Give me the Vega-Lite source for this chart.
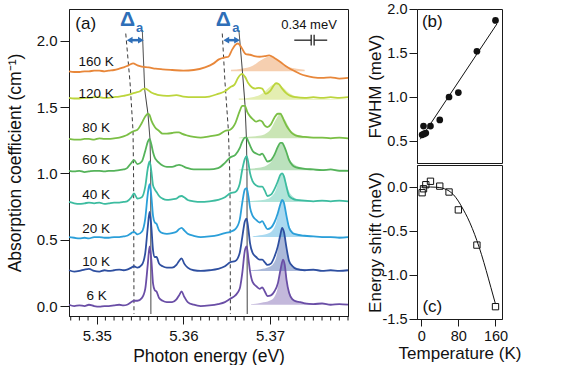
{
"$schema": "https://vega.github.io/schema/vega-lite/v6.json",
"background": "white",
"padding": {"left": 5, "top": 0, "right": 5, "bottom": 0},
"config": {
 "font": "Liberation Sans",
 "view": {"stroke": "#1a1a1a", "strokeWidth": 1},
 "axis": {"domainColor": "#1a1a1a", "tickColor": "#1a1a1a", "labelColor": "#111", "titleColor": "#111", "labelFontSize": 15, "titleFontSize": 17.5, "titleFontWeight": "normal", "grid": false, "labelFont": "Liberation Sans", "titleFont": "Liberation Sans"}
},
"datasets": {
"spectra": [
{"T":"6 K","e":5.3468,"a":0.01},{"T":"6 K","e":5.3474,"a":0.0},{"T":"6 K","e":5.348,"a":0.005},{"T":"6 K","e":5.3486,"a":0.0},{"T":"6 K","e":5.3491,"a":0.01},{"T":"6 K","e":5.3497,"a":0.0},{"T":"6 K","e":5.3503,"a":-0.005},{"T":"6 K","e":5.3509,"a":0.0},{"T":"6 K","e":5.3514,"a":0.0},{"T":"6 K","e":5.352,"a":0.005},{"T":"6 K","e":5.3526,"a":0.01},{"T":"6 K","e":5.3531,"a":0.005},{"T":"6 K","e":5.3535,"a":0.01},{"T":"6 K","e":5.354,"a":0.03},{"T":"6 K","e":5.3543,"a":0.04},{"T":"6 K","e":5.3547,"a":0.04},{"T":"6 K","e":5.3552,"a":0.06},{"T":"6 K","e":5.3556,"a":0.13},{"T":"6 K","e":5.3559,"a":0.32},{"T":"6 K","e":5.3561,"a":0.45},{"T":"6 K","e":5.3563,"a":0.35},{"T":"6 K","e":5.3565,"a":0.17},{"T":"6 K","e":5.3567,"a":0.12},{"T":"6 K","e":5.3569,"a":0.11},{"T":"6 K","e":5.3572,"a":0.06},{"T":"6 K","e":5.3576,"a":0.04},{"T":"6 K","e":5.3581,"a":0.03},{"T":"6 K","e":5.3587,"a":0.03},{"T":"6 K","e":5.3592,"a":0.05},{"T":"6 K","e":5.3595,"a":0.08},{"T":"6 K","e":5.3598,"a":0.11},{"T":"6 K","e":5.3601,"a":0.07},{"T":"6 K","e":5.3605,"a":0.03},{"T":"6 K","e":5.3612,"a":0.01},{"T":"6 K","e":5.362,"a":0.0},{"T":"6 K","e":5.363,"a":0.005},{"T":"6 K","e":5.364,"a":0.015},{"T":"6 K","e":5.3648,"a":0.03},{"T":"6 K","e":5.3654,"a":0.055},{"T":"6 K","e":5.366,"a":0.08},{"T":"6 K","e":5.3665,"a":0.13},{"T":"6 K","e":5.3668,"a":0.25},{"T":"6 K","e":5.3671,"a":0.42},{"T":"6 K","e":5.3673,"a":0.45},{"T":"6 K","e":5.3675,"a":0.36},{"T":"6 K","e":5.3677,"a":0.26},{"T":"6 K","e":5.368,"a":0.18},{"T":"6 K","e":5.3684,"a":0.15},{"T":"6 K","e":5.3688,"a":0.13},{"T":"6 K","e":5.3691,"a":0.14},{"T":"6 K","e":5.3694,"a":0.11},{"T":"6 K","e":5.3697,"a":0.075},{"T":"6 K","e":5.3701,"a":0.08},{"T":"6 K","e":5.3705,"a":0.11},{"T":"6 K","e":5.3709,"a":0.17},{"T":"6 K","e":5.3712,"a":0.27},{"T":"6 K","e":5.3715,"a":0.35},{"T":"6 K","e":5.3717,"a":0.31},{"T":"6 K","e":5.3719,"a":0.2},{"T":"6 K","e":5.3722,"a":0.1},{"T":"6 K","e":5.3726,"a":0.05},{"T":"6 K","e":5.373,"a":0.035},{"T":"6 K","e":5.3735,"a":0.03},{"T":"6 K","e":5.374,"a":0.02},{"T":"6 K","e":5.375,"a":0.015},{"T":"6 K","e":5.376,"a":0.02},{"T":"6 K","e":5.377,"a":0.01},{"T":"6 K","e":5.378,"a":0.015},{"T":"6 K","e":5.379,"a":0.01},
{"T":"10 K","e":5.3468,"a":0.27},{"T":"10 K","e":5.3474,"a":0.26},{"T":"10 K","e":5.348,"a":0.265},{"T":"10 K","e":5.3486,"a":0.275},{"T":"10 K","e":5.3491,"a":0.28},{"T":"10 K","e":5.3497,"a":0.265},{"T":"10 K","e":5.3503,"a":0.26},{"T":"10 K","e":5.3509,"a":0.27},{"T":"10 K","e":5.3514,"a":0.265},{"T":"10 K","e":5.352,"a":0.27},{"T":"10 K","e":5.3526,"a":0.275},{"T":"10 K","e":5.3531,"a":0.27},{"T":"10 K","e":5.3535,"a":0.275},{"T":"10 K","e":5.354,"a":0.29},{"T":"10 K","e":5.3543,"a":0.3},{"T":"10 K","e":5.3547,"a":0.29},{"T":"10 K","e":5.3552,"a":0.31},{"T":"10 K","e":5.3556,"a":0.4},{"T":"10 K","e":5.3559,"a":0.6},{"T":"10 K","e":5.3561,"a":0.71},{"T":"10 K","e":5.3563,"a":0.6},{"T":"10 K","e":5.3565,"a":0.42},{"T":"10 K","e":5.3567,"a":0.37},{"T":"10 K","e":5.3569,"a":0.37},{"T":"10 K","e":5.3572,"a":0.32},{"T":"10 K","e":5.3576,"a":0.3},{"T":"10 K","e":5.3581,"a":0.29},{"T":"10 K","e":5.3587,"a":0.29},{"T":"10 K","e":5.3592,"a":0.31},{"T":"10 K","e":5.3595,"a":0.34},{"T":"10 K","e":5.3598,"a":0.36},{"T":"10 K","e":5.3601,"a":0.32},{"T":"10 K","e":5.3605,"a":0.29},{"T":"10 K","e":5.3612,"a":0.27},{"T":"10 K","e":5.362,"a":0.265},{"T":"10 K","e":5.363,"a":0.27},{"T":"10 K","e":5.364,"a":0.28},{"T":"10 K","e":5.3648,"a":0.3},{"T":"10 K","e":5.3654,"a":0.33},{"T":"10 K","e":5.366,"a":0.34},{"T":"10 K","e":5.3665,"a":0.4},{"T":"10 K","e":5.3668,"a":0.52},{"T":"10 K","e":5.3671,"a":0.64},{"T":"10 K","e":5.3673,"a":0.66},{"T":"10 K","e":5.3675,"a":0.58},{"T":"10 K","e":5.3677,"a":0.47},{"T":"10 K","e":5.368,"a":0.4},{"T":"10 K","e":5.3684,"a":0.37},{"T":"10 K","e":5.3688,"a":0.35},{"T":"10 K","e":5.3691,"a":0.35},{"T":"10 K","e":5.3694,"a":0.33},{"T":"10 K","e":5.3697,"a":0.31},{"T":"10 K","e":5.3701,"a":0.32},{"T":"10 K","e":5.3705,"a":0.37},{"T":"10 K","e":5.3709,"a":0.45},{"T":"10 K","e":5.3712,"a":0.54},{"T":"10 K","e":5.3714,"a":0.59},{"T":"10 K","e":5.3716,"a":0.56},{"T":"10 K","e":5.3719,"a":0.44},{"T":"10 K","e":5.3722,"a":0.34},{"T":"10 K","e":5.3726,"a":0.3},{"T":"10 K","e":5.373,"a":0.28},{"T":"10 K","e":5.374,"a":0.27},{"T":"10 K","e":5.375,"a":0.275},{"T":"10 K","e":5.376,"a":0.265},{"T":"10 K","e":5.377,"a":0.27},{"T":"10 K","e":5.378,"a":0.265},{"T":"10 K","e":5.379,"a":0.27},
{"T":"20 K","e":5.3468,"a":0.52},{"T":"20 K","e":5.3474,"a":0.515},{"T":"20 K","e":5.348,"a":0.51},{"T":"20 K","e":5.3486,"a":0.515},{"T":"20 K","e":5.3491,"a":0.51},{"T":"20 K","e":5.3497,"a":0.52},{"T":"20 K","e":5.3503,"a":0.52},{"T":"20 K","e":5.3509,"a":0.515},{"T":"20 K","e":5.3514,"a":0.515},{"T":"20 K","e":5.352,"a":0.52},{"T":"20 K","e":5.3526,"a":0.52},{"T":"20 K","e":5.3531,"a":0.525},{"T":"20 K","e":5.3535,"a":0.53},{"T":"20 K","e":5.354,"a":0.55},{"T":"20 K","e":5.3543,"a":0.56},{"T":"20 K","e":5.3547,"a":0.54},{"T":"20 K","e":5.3552,"a":0.56},{"T":"20 K","e":5.3556,"a":0.66},{"T":"20 K","e":5.3559,"a":0.85},{"T":"20 K","e":5.3561,"a":0.92},{"T":"20 K","e":5.3563,"a":0.83},{"T":"20 K","e":5.3565,"a":0.68},{"T":"20 K","e":5.3567,"a":0.63},{"T":"20 K","e":5.3569,"a":0.62},{"T":"20 K","e":5.3572,"a":0.57},{"T":"20 K","e":5.3576,"a":0.55},{"T":"20 K","e":5.3581,"a":0.545},{"T":"20 K","e":5.3587,"a":0.55},{"T":"20 K","e":5.3592,"a":0.56},{"T":"20 K","e":5.3595,"a":0.58},{"T":"20 K","e":5.3598,"a":0.59},{"T":"20 K","e":5.3601,"a":0.57},{"T":"20 K","e":5.3605,"a":0.545},{"T":"20 K","e":5.3612,"a":0.53},{"T":"20 K","e":5.362,"a":0.52},{"T":"20 K","e":5.363,"a":0.525},{"T":"20 K","e":5.364,"a":0.535},{"T":"20 K","e":5.3648,"a":0.55},{"T":"20 K","e":5.3654,"a":0.56},{"T":"20 K","e":5.366,"a":0.58},{"T":"20 K","e":5.3665,"a":0.65},{"T":"20 K","e":5.3668,"a":0.78},{"T":"20 K","e":5.3671,"a":0.88},{"T":"20 K","e":5.3673,"a":0.89},{"T":"20 K","e":5.3675,"a":0.83},{"T":"20 K","e":5.3677,"a":0.74},{"T":"20 K","e":5.368,"a":0.68},{"T":"20 K","e":5.3684,"a":0.65},{"T":"20 K","e":5.3688,"a":0.63},{"T":"20 K","e":5.3691,"a":0.64},{"T":"20 K","e":5.3694,"a":0.61},{"T":"20 K","e":5.3697,"a":0.58},{"T":"20 K","e":5.3701,"a":0.59},{"T":"20 K","e":5.3705,"a":0.63},{"T":"20 K","e":5.3709,"a":0.7},{"T":"20 K","e":5.3712,"a":0.77},{"T":"20 K","e":5.3714,"a":0.8},{"T":"20 K","e":5.3716,"a":0.78},{"T":"20 K","e":5.3719,"a":0.68},{"T":"20 K","e":5.3722,"a":0.59},{"T":"20 K","e":5.3726,"a":0.55},{"T":"20 K","e":5.373,"a":0.54},{"T":"20 K","e":5.374,"a":0.53},{"T":"20 K","e":5.375,"a":0.525},{"T":"20 K","e":5.376,"a":0.52},{"T":"20 K","e":5.377,"a":0.52},{"T":"20 K","e":5.378,"a":0.515},{"T":"20 K","e":5.379,"a":0.52},
{"T":"40 K","e":5.3468,"a":0.785},{"T":"40 K","e":5.3474,"a":0.775},{"T":"40 K","e":5.348,"a":0.77},{"T":"40 K","e":5.3486,"a":0.775},{"T":"40 K","e":5.3491,"a":0.78},{"T":"40 K","e":5.3497,"a":0.775},{"T":"40 K","e":5.3503,"a":0.78},{"T":"40 K","e":5.3509,"a":0.77},{"T":"40 K","e":5.3514,"a":0.775},{"T":"40 K","e":5.352,"a":0.78},{"T":"40 K","e":5.3526,"a":0.78},{"T":"40 K","e":5.3531,"a":0.785},{"T":"40 K","e":5.3535,"a":0.79},{"T":"40 K","e":5.354,"a":0.82},{"T":"40 K","e":5.3543,"a":0.85},{"T":"40 K","e":5.3547,"a":0.81},{"T":"40 K","e":5.3552,"a":0.82},{"T":"40 K","e":5.3556,"a":0.9},{"T":"40 K","e":5.3559,"a":1.04},{"T":"40 K","e":5.3561,"a":1.09},{"T":"40 K","e":5.3563,"a":1.02},{"T":"40 K","e":5.3565,"a":0.91},{"T":"40 K","e":5.3567,"a":0.88},{"T":"40 K","e":5.3569,"a":0.86},{"T":"40 K","e":5.3572,"a":0.83},{"T":"40 K","e":5.3576,"a":0.81},{"T":"40 K","e":5.3581,"a":0.8},{"T":"40 K","e":5.3587,"a":0.805},{"T":"40 K","e":5.3592,"a":0.81},{"T":"40 K","e":5.3595,"a":0.825},{"T":"40 K","e":5.3598,"a":0.83},{"T":"40 K","e":5.3601,"a":0.82},{"T":"40 K","e":5.3605,"a":0.8},{"T":"40 K","e":5.3612,"a":0.79},{"T":"40 K","e":5.362,"a":0.785},{"T":"40 K","e":5.363,"a":0.79},{"T":"40 K","e":5.364,"a":0.8},{"T":"40 K","e":5.3648,"a":0.82},{"T":"40 K","e":5.3654,"a":0.85},{"T":"40 K","e":5.366,"a":0.86},{"T":"40 K","e":5.3665,"a":0.92},{"T":"40 K","e":5.3668,"a":1.03},{"T":"40 K","e":5.3671,"a":1.11},{"T":"40 K","e":5.3673,"a":1.13},{"T":"40 K","e":5.3675,"a":1.08},{"T":"40 K","e":5.3677,"a":1.0},{"T":"40 K","e":5.368,"a":0.94},{"T":"40 K","e":5.3684,"a":0.91},{"T":"40 K","e":5.3688,"a":0.9},{"T":"40 K","e":5.3691,"a":0.9},{"T":"40 K","e":5.3694,"a":0.87},{"T":"40 K","e":5.3697,"a":0.83},{"T":"40 K","e":5.3701,"a":0.84},{"T":"40 K","e":5.3705,"a":0.88},{"T":"40 K","e":5.3709,"a":0.94},{"T":"40 K","e":5.3712,"a":0.99},{"T":"40 K","e":5.3714,"a":1.0},{"T":"40 K","e":5.3716,"a":0.98},{"T":"40 K","e":5.3719,"a":0.9},{"T":"40 K","e":5.3722,"a":0.83},{"T":"40 K","e":5.3726,"a":0.81},{"T":"40 K","e":5.373,"a":0.8},{"T":"40 K","e":5.374,"a":0.795},{"T":"40 K","e":5.375,"a":0.79},{"T":"40 K","e":5.376,"a":0.795},{"T":"40 K","e":5.377,"a":0.79},{"T":"40 K","e":5.378,"a":0.795},{"T":"40 K","e":5.379,"a":0.79},
{"T":"60 K","e":5.3468,"a":1.02},{"T":"60 K","e":5.3474,"a":1.015},{"T":"60 K","e":5.348,"a":1.02},{"T":"60 K","e":5.3486,"a":1.01},{"T":"60 K","e":5.3491,"a":1.015},{"T":"60 K","e":5.3497,"a":1.02},{"T":"60 K","e":5.3503,"a":1.02},{"T":"60 K","e":5.3509,"a":1.015},{"T":"60 K","e":5.3514,"a":1.02},{"T":"60 K","e":5.352,"a":1.02},{"T":"60 K","e":5.3526,"a":1.025},{"T":"60 K","e":5.3531,"a":1.03},{"T":"60 K","e":5.3535,"a":1.04},{"T":"60 K","e":5.354,"a":1.08},{"T":"60 K","e":5.3543,"a":1.1},{"T":"60 K","e":5.3547,"a":1.07},{"T":"60 K","e":5.3552,"a":1.09},{"T":"60 K","e":5.3556,"a":1.17},{"T":"60 K","e":5.3559,"a":1.24},{"T":"60 K","e":5.3561,"a":1.26},{"T":"60 K","e":5.3563,"a":1.22},{"T":"60 K","e":5.3565,"a":1.16},{"T":"60 K","e":5.3567,"a":1.12},{"T":"60 K","e":5.3569,"a":1.1},{"T":"60 K","e":5.3572,"a":1.08},{"T":"60 K","e":5.3576,"a":1.06},{"T":"60 K","e":5.3581,"a":1.05},{"T":"60 K","e":5.3587,"a":1.05},{"T":"60 K","e":5.3592,"a":1.06},{"T":"60 K","e":5.3595,"a":1.065},{"T":"60 K","e":5.3598,"a":1.06},{"T":"60 K","e":5.3601,"a":1.05},{"T":"60 K","e":5.3605,"a":1.04},{"T":"60 K","e":5.3612,"a":1.03},{"T":"60 K","e":5.362,"a":1.03},{"T":"60 K","e":5.363,"a":1.03},{"T":"60 K","e":5.364,"a":1.04},{"T":"60 K","e":5.3648,"a":1.08},{"T":"60 K","e":5.3654,"a":1.12},{"T":"60 K","e":5.366,"a":1.14},{"T":"60 K","e":5.3665,"a":1.19},{"T":"60 K","e":5.3668,"a":1.24},{"T":"60 K","e":5.3671,"a":1.27},{"T":"60 K","e":5.3673,"a":1.27},{"T":"60 K","e":5.3675,"a":1.24},{"T":"60 K","e":5.3677,"a":1.21},{"T":"60 K","e":5.368,"a":1.17},{"T":"60 K","e":5.3684,"a":1.15},{"T":"60 K","e":5.3688,"a":1.14},{"T":"60 K","e":5.3691,"a":1.15},{"T":"60 K","e":5.3694,"a":1.12},{"T":"60 K","e":5.3697,"a":1.09},{"T":"60 K","e":5.3701,"a":1.1},{"T":"60 K","e":5.3705,"a":1.14},{"T":"60 K","e":5.3709,"a":1.2},{"T":"60 K","e":5.3712,"a":1.23},{"T":"60 K","e":5.3714,"a":1.23},{"T":"60 K","e":5.3716,"a":1.21},{"T":"60 K","e":5.3719,"a":1.16},{"T":"60 K","e":5.3722,"a":1.1},{"T":"60 K","e":5.3726,"a":1.06},{"T":"60 K","e":5.373,"a":1.045},{"T":"60 K","e":5.374,"a":1.035},{"T":"60 K","e":5.375,"a":1.03},{"T":"60 K","e":5.376,"a":1.025},{"T":"60 K","e":5.377,"a":1.03},{"T":"60 K","e":5.378,"a":1.02},{"T":"60 K","e":5.379,"a":1.02},
{"T":"80 K","e":5.3468,"a":1.26},{"T":"80 K","e":5.3474,"a":1.255},{"T":"80 K","e":5.348,"a":1.255},{"T":"80 K","e":5.3486,"a":1.26},{"T":"80 K","e":5.3491,"a":1.26},{"T":"80 K","e":5.3497,"a":1.255},{"T":"80 K","e":5.3503,"a":1.265},{"T":"80 K","e":5.3509,"a":1.26},{"T":"80 K","e":5.3514,"a":1.26},{"T":"80 K","e":5.352,"a":1.265},{"T":"80 K","e":5.3526,"a":1.27},{"T":"80 K","e":5.3531,"a":1.28},{"T":"80 K","e":5.3535,"a":1.29},{"T":"80 K","e":5.354,"a":1.31},{"T":"80 K","e":5.3543,"a":1.32},{"T":"80 K","e":5.3547,"a":1.33},{"T":"80 K","e":5.3552,"a":1.38},{"T":"80 K","e":5.3556,"a":1.43},{"T":"80 K","e":5.3559,"a":1.45},{"T":"80 K","e":5.3561,"a":1.44},{"T":"80 K","e":5.3563,"a":1.4},{"T":"80 K","e":5.3567,"a":1.35},{"T":"80 K","e":5.3572,"a":1.32},{"T":"80 K","e":5.3576,"a":1.3},{"T":"80 K","e":5.3581,"a":1.3},{"T":"80 K","e":5.3587,"a":1.305},{"T":"80 K","e":5.3592,"a":1.31},{"T":"80 K","e":5.3595,"a":1.31},{"T":"80 K","e":5.3598,"a":1.3},{"T":"80 K","e":5.3605,"a":1.285},{"T":"80 K","e":5.3612,"a":1.275},{"T":"80 K","e":5.362,"a":1.27},{"T":"80 K","e":5.363,"a":1.28},{"T":"80 K","e":5.364,"a":1.29},{"T":"80 K","e":5.3648,"a":1.32},{"T":"80 K","e":5.3654,"a":1.33},{"T":"80 K","e":5.366,"a":1.38},{"T":"80 K","e":5.3665,"a":1.47},{"T":"80 K","e":5.3668,"a":1.51},{"T":"80 K","e":5.3671,"a":1.51},{"T":"80 K","e":5.3674,"a":1.46},{"T":"80 K","e":5.3677,"a":1.43},{"T":"80 K","e":5.368,"a":1.41},{"T":"80 K","e":5.3684,"a":1.39},{"T":"80 K","e":5.3688,"a":1.4},{"T":"80 K","e":5.3691,"a":1.39},{"T":"80 K","e":5.3694,"a":1.36},{"T":"80 K","e":5.3697,"a":1.35},{"T":"80 K","e":5.3701,"a":1.37},{"T":"80 K","e":5.3705,"a":1.42},{"T":"80 K","e":5.3709,"a":1.45},{"T":"80 K","e":5.3712,"a":1.45},{"T":"80 K","e":5.3714,"a":1.43},{"T":"80 K","e":5.3716,"a":1.4},{"T":"80 K","e":5.3719,"a":1.36},{"T":"80 K","e":5.3722,"a":1.33},{"T":"80 K","e":5.3726,"a":1.3},{"T":"80 K","e":5.373,"a":1.285},{"T":"80 K","e":5.374,"a":1.275},{"T":"80 K","e":5.375,"a":1.27},{"T":"80 K","e":5.376,"a":1.27},{"T":"80 K","e":5.377,"a":1.265},{"T":"80 K","e":5.378,"a":1.27},{"T":"80 K","e":5.379,"a":1.265},
{"T":"120 K","e":5.3468,"a":1.57},{"T":"120 K","e":5.3474,"a":1.565},{"T":"120 K","e":5.348,"a":1.565},{"T":"120 K","e":5.3486,"a":1.57},{"T":"120 K","e":5.3491,"a":1.57},{"T":"120 K","e":5.3497,"a":1.575},{"T":"120 K","e":5.3503,"a":1.575},{"T":"120 K","e":5.3509,"a":1.57},{"T":"120 K","e":5.3514,"a":1.57},{"T":"120 K","e":5.352,"a":1.575},{"T":"120 K","e":5.3526,"a":1.58},{"T":"120 K","e":5.3531,"a":1.585},{"T":"120 K","e":5.3535,"a":1.59},{"T":"120 K","e":5.354,"a":1.6},{"T":"120 K","e":5.3545,"a":1.61},{"T":"120 K","e":5.355,"a":1.62},{"T":"120 K","e":5.3553,"a":1.635},{"T":"120 K","e":5.3556,"a":1.64},{"T":"120 K","e":5.3559,"a":1.63},{"T":"120 K","e":5.3563,"a":1.61},{"T":"120 K","e":5.3567,"a":1.6},{"T":"120 K","e":5.3572,"a":1.59},{"T":"120 K","e":5.3581,"a":1.585},{"T":"120 K","e":5.3592,"a":1.59},{"T":"120 K","e":5.36,"a":1.58},{"T":"120 K","e":5.3612,"a":1.575},{"T":"120 K","e":5.362,"a":1.575},{"T":"120 K","e":5.363,"a":1.58},{"T":"120 K","e":5.364,"a":1.6},{"T":"120 K","e":5.3648,"a":1.62},{"T":"120 K","e":5.3654,"a":1.65},{"T":"120 K","e":5.3659,"a":1.67},{"T":"120 K","e":5.3663,"a":1.72},{"T":"120 K","e":5.3666,"a":1.745},{"T":"120 K","e":5.3668,"a":1.75},{"T":"120 K","e":5.3671,"a":1.73},{"T":"120 K","e":5.3675,"a":1.68},{"T":"120 K","e":5.3679,"a":1.65},{"T":"120 K","e":5.3683,"a":1.64},{"T":"120 K","e":5.3687,"a":1.645},{"T":"120 K","e":5.3691,"a":1.64},{"T":"120 K","e":5.3695,"a":1.6},{"T":"120 K","e":5.37,"a":1.62},{"T":"120 K","e":5.3704,"a":1.66},{"T":"120 K","e":5.3707,"a":1.68},{"T":"120 K","e":5.371,"a":1.675},{"T":"120 K","e":5.3714,"a":1.64},{"T":"120 K","e":5.3718,"a":1.61},{"T":"120 K","e":5.3722,"a":1.59},{"T":"120 K","e":5.3726,"a":1.58},{"T":"120 K","e":5.373,"a":1.575},{"T":"120 K","e":5.374,"a":1.57},{"T":"120 K","e":5.375,"a":1.575},{"T":"120 K","e":5.376,"a":1.57},{"T":"120 K","e":5.377,"a":1.575},{"T":"120 K","e":5.378,"a":1.57},{"T":"120 K","e":5.379,"a":1.575},
{"T":"160 K","e":5.3468,"a":1.77},{"T":"160 K","e":5.3474,"a":1.765},{"T":"160 K","e":5.348,"a":1.765},{"T":"160 K","e":5.3486,"a":1.77},{"T":"160 K","e":5.3491,"a":1.77},{"T":"160 K","e":5.3497,"a":1.775},{"T":"160 K","e":5.3503,"a":1.775},{"T":"160 K","e":5.3509,"a":1.77},{"T":"160 K","e":5.3514,"a":1.775},{"T":"160 K","e":5.352,"a":1.78},{"T":"160 K","e":5.3526,"a":1.79},{"T":"160 K","e":5.3531,"a":1.8},{"T":"160 K","e":5.3535,"a":1.81},{"T":"160 K","e":5.3538,"a":1.82},{"T":"160 K","e":5.3542,"a":1.83},{"T":"160 K","e":5.3547,"a":1.815},{"T":"160 K","e":5.3552,"a":1.805},{"T":"160 K","e":5.356,"a":1.8},{"T":"160 K","e":5.3568,"a":1.79},{"T":"160 K","e":5.3576,"a":1.785},{"T":"160 K","e":5.3587,"a":1.78},{"T":"160 K","e":5.36,"a":1.775},{"T":"160 K","e":5.3612,"a":1.78},{"T":"160 K","e":5.3625,"a":1.8},{"T":"160 K","e":5.3635,"a":1.83},{"T":"160 K","e":5.3641,"a":1.86},{"T":"160 K","e":5.3648,"a":1.875},{"T":"160 K","e":5.3652,"a":1.88},{"T":"160 K","e":5.3656,"a":1.93},{"T":"160 K","e":5.366,"a":1.97},{"T":"160 K","e":5.3663,"a":1.98},{"T":"160 K","e":5.3667,"a":1.95},{"T":"160 K","e":5.3672,"a":1.9},{"T":"160 K","e":5.3677,"a":1.895},{"T":"160 K","e":5.3682,"a":1.885},{"T":"160 K","e":5.3688,"a":1.88},{"T":"160 K","e":5.3694,"a":1.885},{"T":"160 K","e":5.3699,"a":1.89},{"T":"160 K","e":5.3705,"a":1.87},{"T":"160 K","e":5.3712,"a":1.84},{"T":"160 K","e":5.3718,"a":1.81},{"T":"160 K","e":5.3723,"a":1.79},{"T":"160 K","e":5.3729,"a":1.77},{"T":"160 K","e":5.3735,"a":1.75},{"T":"160 K","e":5.3742,"a":1.735},{"T":"160 K","e":5.375,"a":1.725},{"T":"160 K","e":5.376,"a":1.72},{"T":"160 K","e":5.377,"a":1.725},{"T":"160 K","e":5.378,"a":1.715},{"T":"160 K","e":5.379,"a":1.72}
],
"fits": [
{"T":"6 K","e":5.3678,"a":0.013,"b":0.01},{"T":"6 K","e":5.369,"a":0.024,"b":0.01},{"T":"6 K","e":5.37,"a":0.041,"b":0.01},{"T":"6 K","e":5.3705,"a":0.068,"b":0.01},{"T":"6 K","e":5.3709,"a":0.139,"b":0.01},{"T":"6 K","e":5.3712,"a":0.265,"b":0.01},{"T":"6 K","e":5.3715,"a":0.35,"b":0.01},{"T":"6 K","e":5.3718,"a":0.265,"b":0.01},{"T":"6 K","e":5.3721,"a":0.139,"b":0.01},{"T":"6 K","e":5.3725,"a":0.068,"b":0.01},{"T":"6 K","e":5.373,"a":0.041,"b":0.01},{"T":"6 K","e":5.374,"a":0.024,"b":0.01},{"T":"6 K","e":5.3755,"a":0.017,"b":0.01},{"T":"6 K","e":5.379,"a":0.013,"b":0.01},
{"T":"10 K","e":5.3678,"a":0.27,"b":0.265},{"T":"10 K","e":5.3689,"a":0.278,"b":0.265},{"T":"10 K","e":5.3699,"a":0.294,"b":0.265},{"T":"10 K","e":5.3704,"a":0.32,"b":0.265},{"T":"10 K","e":5.3708,"a":0.389,"b":0.265},{"T":"10 K","e":5.3711,"a":0.509,"b":0.265},{"T":"10 K","e":5.3714,"a":0.59,"b":0.265},{"T":"10 K","e":5.3717,"a":0.509,"b":0.265},{"T":"10 K","e":5.372,"a":0.389,"b":0.265},{"T":"10 K","e":5.3724,"a":0.32,"b":0.265},{"T":"10 K","e":5.3729,"a":0.294,"b":0.265},{"T":"10 K","e":5.3739,"a":0.278,"b":0.265},{"T":"10 K","e":5.3754,"a":0.272,"b":0.265},{"T":"10 K","e":5.379,"a":0.268,"b":0.265},
{"T":"20 K","e":5.368,"a":0.524,"b":0.52},{"T":"20 K","e":5.3685,"a":0.531,"b":0.52},{"T":"20 K","e":5.3697,"a":0.545,"b":0.52},{"T":"20 K","e":5.37025,"a":0.568,"b":0.52},{"T":"20 K","e":5.3707,"a":0.626,"b":0.52},{"T":"20 K","e":5.37105,"a":0.73,"b":0.52},{"T":"20 K","e":5.3714,"a":0.8,"b":0.52},{"T":"20 K","e":5.37175,"a":0.73,"b":0.52},{"T":"20 K","e":5.3721,"a":0.626,"b":0.52},{"T":"20 K","e":5.37255,"a":0.568,"b":0.52},{"T":"20 K","e":5.3731,"a":0.545,"b":0.52},{"T":"20 K","e":5.3743,"a":0.531,"b":0.52},{"T":"20 K","e":5.376,"a":0.526,"b":0.52},{"T":"20 K","e":5.379,"a":0.523,"b":0.52},
{"T":"40 K","e":5.3664,"a":0.787,"b":0.785},{"T":"40 K","e":5.3682,"a":0.794,"b":0.785},{"T":"40 K","e":5.3695,"a":0.804,"b":0.785},{"T":"40 K","e":5.3701,"a":0.822,"b":0.785},{"T":"40 K","e":5.37063,"a":0.867,"b":0.785},{"T":"40 K","e":5.37102,"a":0.946,"b":0.785},{"T":"40 K","e":5.3714,"a":1.0,"b":0.785},{"T":"40 K","e":5.37178,"a":0.946,"b":0.785},{"T":"40 K","e":5.37217,"a":0.867,"b":0.785},{"T":"40 K","e":5.3727,"a":0.822,"b":0.785},{"T":"40 K","e":5.3733,"a":0.804,"b":0.785},{"T":"40 K","e":5.3746,"a":0.794,"b":0.785},{"T":"40 K","e":5.3765,"a":0.789,"b":0.785},{"T":"40 K","e":5.379,"a":0.787,"b":0.785},
{"T":"60 K","e":5.3664,"a":1.028,"b":1.025},{"T":"60 K","e":5.367,"a":1.033,"b":1.025},{"T":"60 K","e":5.3687,"a":1.043,"b":1.025},{"T":"60 K","e":5.3696,"a":1.06,"b":1.025},{"T":"60 K","e":5.3703,"a":1.103,"b":1.025},{"T":"60 K","e":5.3708,"a":1.18,"b":1.025},{"T":"60 K","e":5.3713,"a":1.23,"b":1.025},{"T":"60 K","e":5.3718,"a":1.18,"b":1.025},{"T":"60 K","e":5.3723,"a":1.103,"b":1.025},{"T":"60 K","e":5.373,"a":1.06,"b":1.025},{"T":"60 K","e":5.3739,"a":1.043,"b":1.025},{"T":"60 K","e":5.3756,"a":1.033,"b":1.025},{"T":"60 K","e":5.3782,"a":1.029,"b":1.025},{"T":"60 K","e":5.379,"a":1.028,"b":1.025},
{"T":"80 K","e":5.3664,"a":1.269,"b":1.265},{"T":"80 K","e":5.3667,"a":1.272,"b":1.265},{"T":"80 K","e":5.3685,"a":1.282,"b":1.265},{"T":"80 K","e":5.3694,"a":1.296,"b":1.265},{"T":"80 K","e":5.3701,"a":1.335,"b":1.265},{"T":"80 K","e":5.37066,"a":1.404,"b":1.265},{"T":"80 K","e":5.3712,"a":1.45,"b":1.265},{"T":"80 K","e":5.37174,"a":1.404,"b":1.265},{"T":"80 K","e":5.3723,"a":1.335,"b":1.265},{"T":"80 K","e":5.373,"a":1.296,"b":1.265},{"T":"80 K","e":5.3739,"a":1.282,"b":1.265},{"T":"80 K","e":5.3757,"a":1.272,"b":1.265},{"T":"80 K","e":5.3784,"a":1.269,"b":1.265},{"T":"80 K","e":5.379,"a":1.268,"b":1.265},
{"T":"120 K","e":5.3664,"a":1.565,"b":1.555},{"T":"120 K","e":5.3668,"a":1.566,"b":1.555},{"T":"120 K","e":5.3681,"a":1.576,"b":1.555},{"T":"120 K","e":5.3691,"a":1.6025,"b":1.555},{"T":"120 K","e":5.3699,"a":1.649,"b":1.555},{"T":"120 K","e":5.3707,"a":1.68,"b":1.555},{"T":"120 K","e":5.3715,"a":1.649,"b":1.555},{"T":"120 K","e":5.3723,"a":1.6025,"b":1.555},{"T":"120 K","e":5.3733,"a":1.576,"b":1.555},{"T":"120 K","e":5.3746,"a":1.566,"b":1.555},{"T":"120 K","e":5.3773,"a":1.56,"b":1.555},{"T":"120 K","e":5.379,"a":1.558,"b":1.555},
{"T":"160 K","e":5.3655,"a":1.781,"b":1.77},{"T":"160 K","e":5.3667,"a":1.789,"b":1.77},{"T":"160 K","e":5.368,"a":1.812,"b":1.77},{"T":"160 K","e":5.3689,"a":1.8525,"b":1.77},{"T":"160 K","e":5.3699,"a":1.88,"b":1.77},{"T":"160 K","e":5.3709,"a":1.8525,"b":1.77},{"T":"160 K","e":5.3718,"a":1.812,"b":1.77},{"T":"160 K","e":5.3731,"a":1.789,"b":1.77},{"T":"160 K","e":5.374,"a":1.782,"b":1.77}
],
"guides": [
{"id":"d1","kind":"dashed","i":0,"e":5.35335,"a":2.055},{"id":"d1","kind":"dashed","i":1,"e":5.35384,"a":1.69},{"id":"d1","kind":"dashed","i":2,"e":5.35419,"a":1.32},{"id":"d1","kind":"dashed","i":3,"e":5.35426,"a":0.94},{"id":"d1","kind":"dashed","i":4,"e":5.3543,"a":-0.06},
{"id":"s1","kind":"solid","i":0,"e":5.35526,"a":2.08},{"id":"s1","kind":"solid","i":1,"e":5.35554,"a":1.63},{"id":"s1","kind":"solid","i":2,"e":5.35592,"a":1.446},{"id":"s1","kind":"solid","i":3,"e":5.35615,"a":1.256},{"id":"s1","kind":"solid","i":4,"e":5.35623,"a":1.015},{"id":"s1","kind":"solid","i":5,"e":5.35625,"a":-0.06},
{"id":"d2","kind":"dashed","i":0,"e":5.36449,"a":2.055},{"id":"d2","kind":"dashed","i":1,"e":5.3648,"a":1.69},{"id":"d2","kind":"dashed","i":2,"e":5.3652,"a":1.32},{"id":"d2","kind":"dashed","i":3,"e":5.36538,"a":0.94},{"id":"d2","kind":"dashed","i":4,"e":5.36543,"a":-0.06},
{"id":"s2","kind":"solid","i":0,"e":5.36641,"a":2.08},{"id":"s2","kind":"solid","i":1,"e":5.36684,"a":1.75},{"id":"s2","kind":"solid","i":2,"e":5.36711,"a":1.52},{"id":"s2","kind":"solid","i":3,"e":5.36728,"a":1.26},{"id":"s2","kind":"solid","i":4,"e":5.36734,"a":1.015},{"id":"s2","kind":"solid","i":5,"e":5.36737,"a":-0.06}
],
"minorticks": [
{"e":5.347},{"e":5.348},{"e":5.349},{"e":5.351},{"e":5.352},{"e":5.353},{"e":5.354},{"e":5.355},{"e":5.356},{"e":5.357},{"e":5.358},{"e":5.359},{"e":5.361},{"e":5.362},{"e":5.363},{"e":5.364},{"e":5.365},{"e":5.366},{"e":5.367},{"e":5.368},{"e":5.369},{"e":5.371},{"e":5.372},{"e":5.373},{"e":5.374},{"e":5.375},{"e":5.376},{"e":5.377},{"e":5.378},{"e":5.379}
],
"fwhm": [
{"T":2,"v":0.57},{"T":5,"v":0.67},{"T":6,"v":0.58},{"T":10,"v":0.59},{"T":20,"v":0.67},{"T":40,"v":0.74},{"T":60,"v":1.0},{"T":80,"v":1.05},{"T":120,"v":1.52},{"T":160,"v":1.87}
],
"fwhmfit": [{"T":-2,"v":0.52},{"T":163,"v":1.83}],
"shift": [
{"T":2,"v":-0.065},{"T":5,"v":-0.02},{"T":10,"v":0.026},{"T":20,"v":0.065},{"T":40,"v":0.01},{"T":60,"v":-0.057},{"T":80,"v":-0.26},{"T":120,"v":-0.66},{"T":160,"v":-1.36}
],
"shiftfit": [
{"T":0,"v":0.0},{"T":10,"v":0.0},{"T":20,"v":0.0},{"T":30,"v":-0.002},{"T":40,"v":-0.006},{"T":50,"v":-0.02},{"T":60,"v":-0.045},{"T":70,"v":-0.09},{"T":80,"v":-0.16},{"T":90,"v":-0.25},{"T":100,"v":-0.35},{"T":110,"v":-0.47},{"T":120,"v":-0.61},{"T":130,"v":-0.77},{"T":140,"v":-0.95},{"T":150,"v":-1.14},{"T":160,"v":-1.33}
]
},
"spacing": 12,
"hconcat": [
{
 "width": 279, "height": 307,
 "layer": [
  {"data": {"name": "fits"},
   "mark": {"type": "area", "fillOpacity": 0.4, "interpolate": "monotone"},
   "encoding": {
    "x": {"field": "e", "type": "quantitative", "scale": {"domain": [5.3468, 5.379], "nice": false, "zero": false},
      "axis": {"title": "Photon energy (eV)", "values": [5.35, 5.36, 5.37], "format": ".2f", "tickSize": 8, "labelPadding": 4, "titlePadding": 4, "labelFlush": false}},
    "y": {"field": "a", "type": "quantitative", "scale": {"domain": [-0.075, 2.24], "nice": false, "zero": false},
      "axis": {"title": "Absorption coefficient (cm⁻¹)", "values": [0, 0.5, 1, 1.5, 2], "format": ".1f", "tickSize": 9, "labelPadding": 3, "titlePadding": 12}},
    "y2": {"field": "b"},
    "color": {"field": "T", "type": "nominal", "legend": null,
      "scale": {"domain": ["6 K","10 K","20 K","40 K","60 K","80 K","120 K","160 K"], "range": ["#6a4ea6","#2e4fa0","#2b9fd9","#3dbca0","#55b35a","#7bbf45","#bcd53c","#e8873a"]}}
   }},
  {"data": {"name": "minorticks"},
   "mark": {"type": "rule", "color": "#1a1a1a", "strokeWidth": 1},
   "encoding": {"x": {"field": "e", "type": "quantitative"}, "y": {"datum": -0.075, "type": "quantitative"}, "y2": {"datum": -0.109}}},
  {"data": {"name": "guides"},
   "mark": {"type": "line", "color": "#3a3a3a", "strokeWidth": 1},
   "encoding": {
    "x": {"field": "e", "type": "quantitative"},
    "y": {"field": "a", "type": "quantitative"},
    "detail": {"field": "id"},
    "order": {"field": "i"},
    "strokeDash": {"field": "kind", "type": "nominal", "legend": null, "scale": {"domain": ["dashed","solid"], "range": [[4,3],[1,0]]}}
   }},
  {"data": {"name": "spectra"},
   "mark": {"type": "line", "strokeWidth": 1.8, "interpolate": "monotone"},
   "encoding": {
    "x": {"field": "e", "type": "quantitative"},
    "y": {"field": "a", "type": "quantitative"},
    "color": {"field": "T", "type": "nominal"}
   }},
  {"data": {"values": [{"x1":5.3538,"x2":5.3551,"a":2.005},{"x1":5.36495,"x2":5.3662,"a":2.005}]},
   "mark": {"type": "rule", "color": "#2f6fb8", "strokeWidth": 2.5},
   "encoding": {"x": {"field": "x1", "type": "quantitative"}, "x2": {"field": "x2"}, "y": {"field": "a", "type": "quantitative"}}},
  {"data": {"values": [{"e":5.3538,"a":2.005,"d":"L"},{"e":5.3551,"a":2.005,"d":"R"},{"e":5.36495,"a":2.005,"d":"L"},{"e":5.3662,"a":2.005,"d":"R"}]},
   "mark": {"type": "point", "filled": true, "color": "#2f6fb8", "opacity": 1, "size": 45},
   "encoding": {"x": {"field": "e", "type": "quantitative"}, "y": {"field": "a", "type": "quantitative"},
    "shape": {"field": "d", "type": "nominal", "legend": null, "scale": {"domain": ["L","R"], "range": ["triangle-left","triangle-right"]}}}},
  {"data": {"values": [{"e":5.35355,"a":2.156,"t":"Δ"},{"e":5.36462,"a":2.156,"t":"Δ"}]},
   "mark": {"type": "text", "fontSize": 21, "fontWeight": "bold", "color": "#2f6fb8"},
   "encoding": {"x": {"field": "e", "type": "quantitative"}, "y": {"field": "a", "type": "quantitative"}, "text": {"field": "t"}}},
  {"data": {"values": [{"e":5.35495,"a":2.1,"t":"a"},{"e":5.36605,"a":2.1,"t":"a"}]},
   "mark": {"type": "text", "fontSize": 13, "fontWeight": "bold", "color": "#2f6fb8"},
   "encoding": {"x": {"field": "e", "type": "quantitative"}, "y": {"field": "a", "type": "quantitative"}, "text": {"field": "t"}}},
  {"data": {"values": [{"x1":5.3728,"x2":5.37475,"y1":2.005,"y2":2.005},{"x1":5.37509,"x2":5.3766,"y1":2.005,"y2":2.005},{"x1":5.37475,"x2":5.37475,"y1":2.045,"y2":1.965},{"x1":5.37509,"x2":5.37509,"y1":2.045,"y2":1.965}]},
   "mark": {"type": "rule", "color": "#111", "strokeWidth": 1.2},
   "encoding": {"x": {"field": "x1", "type": "quantitative"}, "x2": {"field": "x2"}, "y": {"field": "y1", "type": "quantitative"}, "y2": {"field": "y2"}}},
  {"data": {"values": [
     {"e":5.3745,"a":2.12,"t":"0.34 meV","s":13},
     {"e":5.34873,"a":2.13,"t":"(a)","s":17},
     {"e":5.34993,"a":1.84,"t":"160 K","s":13.5},
     {"e":5.34993,"a":1.6,"t":"120 K","s":13.5},
     {"e":5.34993,"a":1.34,"t":"80 K","s":13.5},
     {"e":5.34993,"a":1.1,"t":"60 K","s":13.5},
     {"e":5.34993,"a":0.84,"t":"40 K","s":13.5},
     {"e":5.34993,"a":0.58,"t":"20 K","s":13.5},
     {"e":5.34993,"a":0.33,"t":"10 K","s":13.5},
     {"e":5.35,"a":0.075,"t":"6 K","s":13.5}]},
   "mark": {"type": "text", "color": "#111"},
   "encoding": {"x": {"field": "e", "type": "quantitative"}, "y": {"field": "a", "type": "quantitative"}, "text": {"field": "t"},
     "size": {"field": "s", "type": "quantitative", "scale": null}}}
 ]
},
{
 "spacing": 0,
 "vconcat": [
  {
   "width": 85, "height": 154,
   "layer": [
    {"data": {"name": "fwhmfit"},
     "mark": {"type": "line", "color": "#111", "strokeWidth": 1},
     "encoding": {
      "x": {"field": "T", "type": "quantitative", "scale": {"domain": [-9, 174], "nice": false, "zero": false}, "axis": null},
      "y": {"field": "v", "type": "quantitative", "scale": {"domain": [0.25, 2.0], "nice": false, "zero": false},
        "axis": {"title": "FWHM (meV)", "values": [0.5, 1, 1.5, 2], "format": ".1f", "tickSize": 8, "labelPadding": 2, "labelFontSize": 14.5, "titleX": -33, "titleY": 77, "titleFontSize": 17}}
     }},
    {"data": {"name": "fwhm"},
     "mark": {"type": "point", "filled": true, "color": "#111", "opacity": 1, "size": 45},
     "encoding": {"x": {"field": "T", "type": "quantitative"}, "y": {"field": "v", "type": "quantitative"}}},
    {"data": {"values": [{"T": 24, "v": 1.855, "t": "(b)"}]},
     "mark": {"type": "text", "fontSize": 17, "color": "#111"},
     "encoding": {"x": {"field": "T", "type": "quantitative"}, "y": {"field": "v", "type": "quantitative"}, "text": {"field": "t"}}}
   ]
  },
  {
   "width": 85, "height": 154,
   "layer": [
    {"data": {"name": "shiftfit"},
     "mark": {"type": "line", "color": "#111", "strokeWidth": 1, "interpolate": "monotone"},
     "encoding": {
      "x": {"field": "T", "type": "quantitative", "scale": {"domain": [-9, 174], "nice": false, "zero": false},
        "axis": {"title": "Temperature (K)", "values": [0, 40, 80, 120, 160], "labelExpr": "datum.value % 80 == 0 ? datum.label : ''",
          "tickSize": {"condition": {"test": "datum.value % 80 == 0", "value": 7}, "value": 4}, "labelFontSize": 14.5, "labelPadding": 3, "titlePadding": 3, "titleFontSize": 17, "labelFlush": false}},
      "y": {"field": "v", "type": "quantitative", "scale": {"domain": [-1.5, 0.25], "nice": false, "zero": false},
        "axis": {"title": "Energy shift (meV)", "values": [0, -0.5, -1, -1.5], "labelExpr": "datum.value < 0 ? '-' + format(-datum.value, '.1f') : format(datum.value, '.1f')", "tickSize": 8, "labelPadding": 2, "labelFontSize": 14.5, "titleX": -33, "titleY": 77, "titleFontSize": 17}}
     }},
    {"data": {"name": "shift"},
     "mark": {"type": "point", "shape": "square", "filled": false, "color": "#111", "opacity": 1, "size": 40, "strokeWidth": 1},
     "encoding": {"x": {"field": "T", "type": "quantitative"}, "y": {"field": "v", "type": "quantitative"}}},
    {"data": {"values": [{"T": 24, "v": -1.36, "t": "(c)"}]},
     "mark": {"type": "text", "fontSize": 17, "color": "#111"},
     "encoding": {"x": {"field": "T", "type": "quantitative"}, "y": {"field": "v", "type": "quantitative"}, "text": {"field": "t"}}}
   ]
  }
 ]
}
]
}
